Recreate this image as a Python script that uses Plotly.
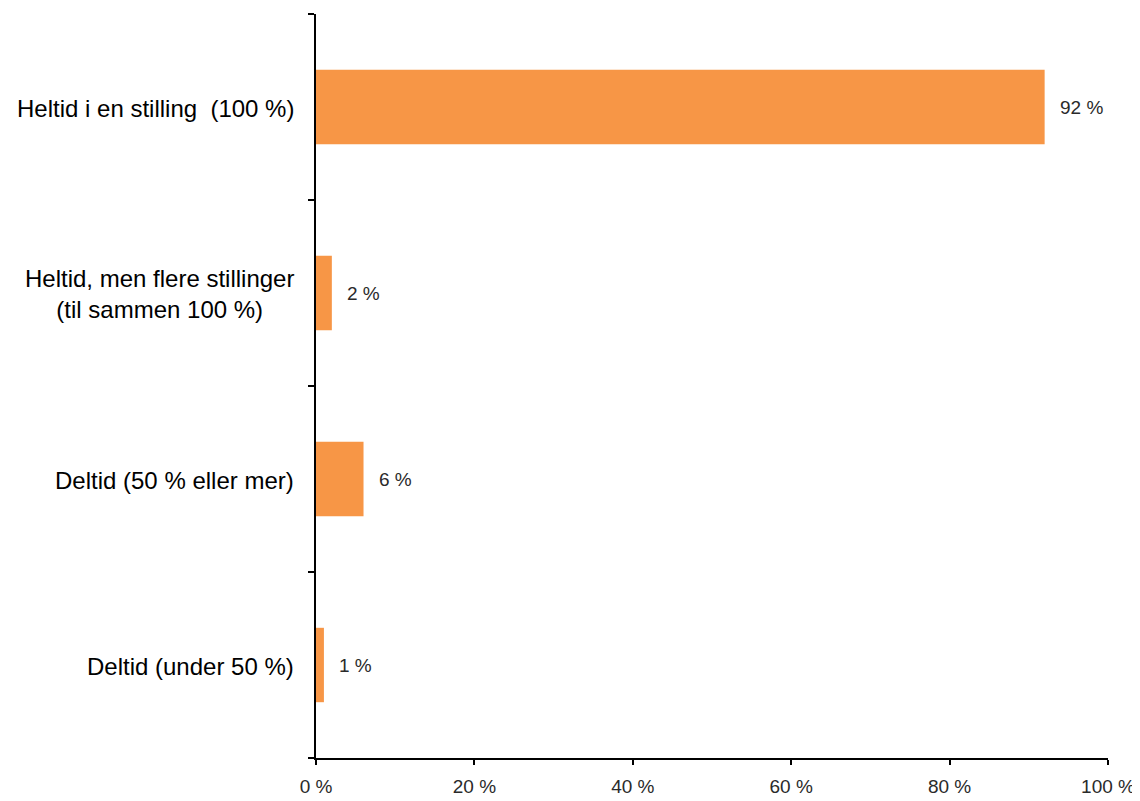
import plotly.graph_objects as go

categories = [
    "Heltid i en stilling  (100 %)",
    "Heltid, men flere stillinger<br>(til sammen 100 %)",
    "Deltid (50 % eller mer)",
    "Deltid (under 50 %)",
]
values = [92, 2, 6, 1]
value_labels = ["92 %", "2 %", "6 %", "1 %"]
x_ticks = [0, 20, 40, 60, 80, 100]
x_ticklabels = ["0 %", "20 %", "40 %", "60 %", "80 %", "100 %"]

BAR_COLOR = "#F79646"
FONT = "Liberation Sans, Arial, sans-serif"

fig = go.Figure()
fig.add_trace(go.Bar(
    x=values,
    y=categories,
    orientation="h",
    marker=dict(color=BAR_COLOR, line=dict(width=0)),
    width=0.4,
    hoverinfo="skip",
))

annotations = []
for cat, v, lab in zip(categories, values, value_labels):
    annotations.append(dict(
        x=v, y=cat, xref="x", yref="y", text=lab, showarrow=False,
        xanchor="left", yanchor="middle", xshift=13,
        font=dict(family=FONT, size=19, color="#2a2a2a"),
    ))
    annotations.append(dict(
        x=0, y=cat, xref="paper", yref="y", text=cat, showarrow=False,
        xanchor="right", yanchor="middle", xshift=-20, yshift=-1, align="center",
        font=dict(family=FONT, size=24, color="#000000"),
    ))

fig.update_layout(
    width=1140, height=801,
    margin=dict(l=308, r=40, t=6, b=51),
    plot_bgcolor="white", paper_bgcolor="white",
    showlegend=False,
    annotations=annotations,
    xaxis=dict(
        range=[0, 100], tickvals=x_ticks, ticktext=x_ticklabels,
        showgrid=False, zeroline=False,
        showline=True, linecolor="black", linewidth=2,
        ticks="outside", ticklen=5, tickwidth=2, tickcolor="black",
        tickfont=dict(family=FONT, size=19, color="#2a2a2a"),
        ticklabelstandoff=5,
    ),
    yaxis=dict(
        categoryorder="array", categoryarray=categories[::-1],
        showticklabels=False, showgrid=False, zeroline=False,
        showline=True, linecolor="black", linewidth=2,
        ticks="outside", ticklen=6, tickwidth=2, tickcolor="black",
        tickson="boundaries",
    ),
)

fig.write_html("out.html")
